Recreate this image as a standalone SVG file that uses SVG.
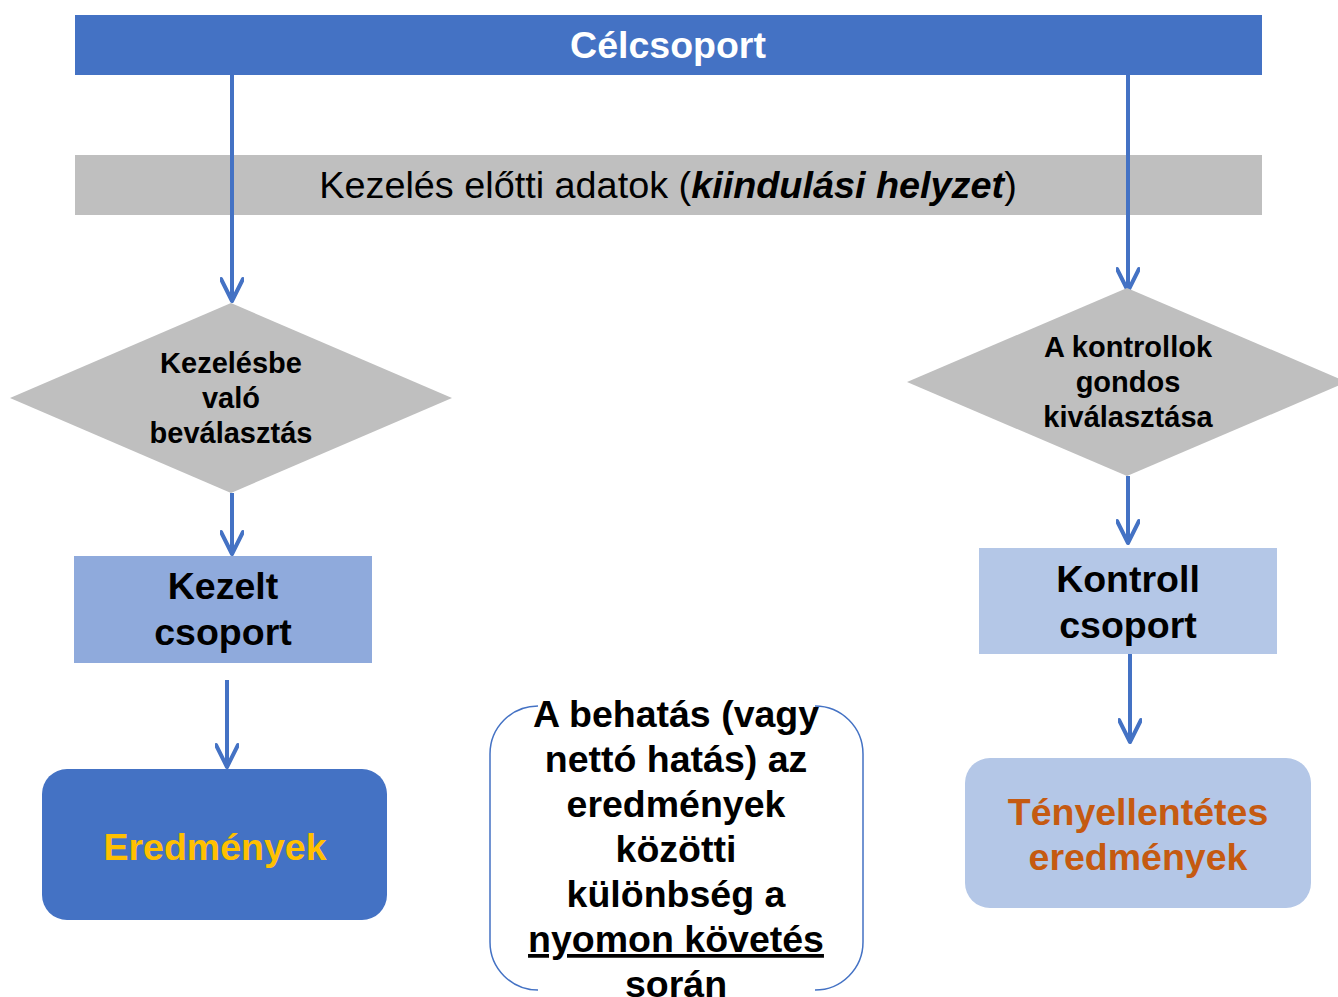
<svg xmlns="http://www.w3.org/2000/svg" width="1338" height="997" viewBox="0 0 1338 997">
<defs>
<marker id="arr" viewBox="0 0 30 24" refX="26" refY="12" markerWidth="30" markerHeight="24" markerUnits="userSpaceOnUse" orient="auto">
<path d="M4 1 L26 12 L4 23" fill="none" stroke="#4472C4" stroke-width="4" stroke-linecap="round" stroke-linejoin="round"/>
</marker>
<style>
text{font-family:"Liberation Sans",Arial,sans-serif;text-anchor:middle}
.b{font-weight:bold}
.big{font-size:37.5px;font-weight:bold}
.dia{font-size:29px;font-weight:bold;fill:#000}
.con{fill:none;stroke:#4472C4;stroke-width:4}
</style>
</defs>
<rect width="1338" height="997" fill="#fff"/>

<g id="celcsoport">
<rect x="75" y="15" width="1187" height="60" fill="#4472C4"/>
<text x="668" y="58" class="big" fill="#fff">Célcsoport</text>
</g>

<g id="kiindulasi">
<rect x="75" y="155" width="1187" height="60" fill="#BFBFBF"/>
<text x="668" y="198" font-size="37.8px" fill="#000">Kezelés előtti adatok (<tspan font-weight="bold" font-style="italic">kiindulási helyzet</tspan>)</text>
</g>

<g id="connectors">
<line x1="232" y1="75" x2="232" y2="301" class="con" marker-end="url(#arr)"/>
<line x1="1128" y1="75" x2="1128" y2="291" class="con" marker-end="url(#arr)"/>
<line x1="232" y1="493" x2="232" y2="554" class="con" marker-end="url(#arr)"/>
<line x1="1128" y1="476" x2="1128" y2="543" class="con" marker-end="url(#arr)"/>
<line x1="227" y1="680" x2="227" y2="767" class="con" marker-end="url(#arr)"/>
<line x1="1130" y1="654" x2="1130" y2="742" class="con" marker-end="url(#arr)"/>
</g>

<g id="kezelesbe">
<polygon points="231,303 452,398 231,493 10,398" fill="#BFBFBF"/>
<text class="dia"><tspan x="231" y="373">Kezelésbe</tspan><tspan x="231" y="408">való</tspan><tspan x="231" y="443">beválasztás</tspan></text>
</g>

<g id="kontrollok">
<polygon points="1127,288 1347,382 1127,476 907,382" fill="#BFBFBF"/>
<text class="dia"><tspan x="1128" y="357">A kontrollok</tspan><tspan x="1128" y="392">gondos</tspan><tspan x="1128" y="427">kiválasztása</tspan></text>
</g>

<g id="kezelt">
<rect x="74" y="556" width="298" height="107" fill="#8FAADC"/>
<text class="big" fill="#000"><tspan x="223" y="599">Kezelt</tspan><tspan x="223" y="645">csoport</tspan></text>
</g>

<g id="kontroll">
<rect x="979" y="548" width="298" height="106" fill="#B4C7E7"/>
<text class="big" fill="#000"><tspan x="1128" y="592">Kontroll</tspan><tspan x="1128" y="638">csoport</tspan></text>
</g>

<g id="eredmenyek">
<rect x="42" y="769" width="345" height="151" rx="25" fill="#4472C4"/>
<text x="215" y="860" class="big" fill="#FFC000">Eredmények</text>
</g>

<g id="tenyellentetes">
<rect x="965" y="758" width="346" height="150" rx="25" fill="#B4C7E7"/>
<text class="big" fill="#C55A11"><tspan x="1138" y="825">Tényellentétes</tspan><tspan x="1138" y="870">eredmények</tspan></text>
</g>

<g id="behatas">
<path d="M538 706 A48 48 0 0 0 490 754 L490 942 A48 48 0 0 0 538 990 M815 706 A48 48 0 0 1 863 754 L863 942 A48 48 0 0 1 815 990" fill="none" stroke="#4472C4" stroke-width="1.5"/>
<text class="big" fill="#000"><tspan x="676" y="727">A behatás (vagy</tspan><tspan x="676" y="772">nettó hatás) az</tspan><tspan x="676" y="817">eredmények</tspan><tspan x="676" y="862">közötti</tspan><tspan x="676" y="907">különbség a</tspan><tspan x="676" y="952" text-decoration="underline">nyomon követés</tspan><tspan x="676" y="997">során</tspan></text>
</g>
</svg>
